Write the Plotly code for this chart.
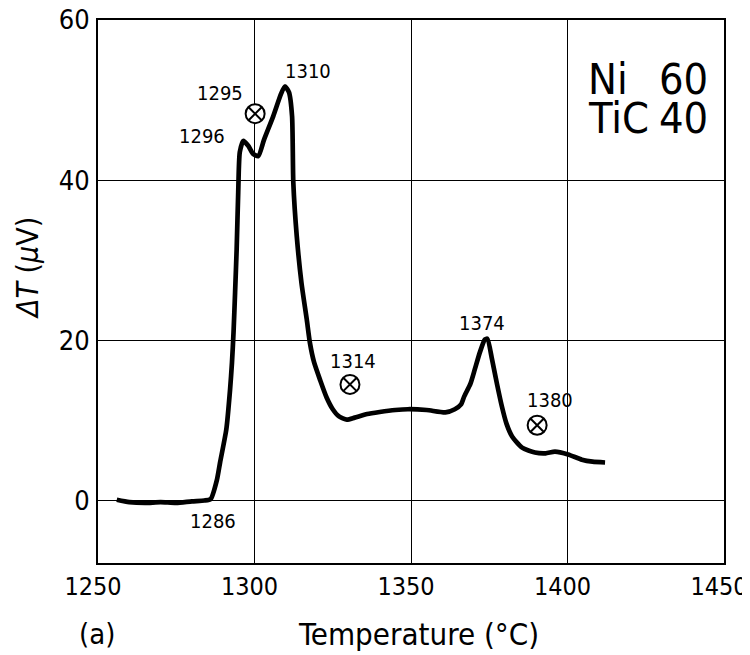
import plotly.graph_objects as go

# DTA curve (Temperature °C, ΔT µV)
temp = [1256, 1260, 1265, 1270, 1275, 1280, 1284, 1286, 1288, 1289, 1291, 1292.2, 1292.8, 1293.3,
        1293.8, 1294.3, 1294.8, 1295.3, 1296.4, 1298, 1299.5, 1301.2, 1303, 1306, 1308.5, 1309.7,
        1311, 1312, 1312.4, 1313.5, 1315, 1316.7, 1317.7, 1319, 1321, 1323, 1325, 1327, 1329.5,
        1332, 1336, 1340, 1345, 1349, 1355, 1361, 1364, 1366, 1367, 1369, 1370.4, 1372, 1373.6,
        1374.4, 1375.9, 1377.5, 1379, 1380.5, 1382.3, 1385.5, 1389.6, 1393, 1396, 1400.2, 1404.6,
        1408, 1412]
dT = [0.1, -0.2, -0.3, -0.2, -0.3, -0.1, 0.0, 0.2, 2.6, 4.75, 8.9, 13.9, 17.2, 21.0,
      26.0, 31.4, 38.5, 43.5, 44.9, 44.3, 43.3, 43.0, 45.0, 48.0, 50.8, 51.7,
      51.0, 48.0, 39.7, 33.0, 27.2, 22.6, 19.7, 17.3, 15.0, 12.9, 11.4, 10.5, 10.1,
      10.35, 10.8, 11.05, 11.3, 11.4, 11.3, 11.0, 11.4, 12.0, 13.0, 14.6, 16.4, 18.5, 20.1,
      20.2, 17.6, 14.5, 11.8, 9.6, 8.0, 6.6, 6.0, 5.9, 6.1, 5.75, 5.1,
      4.85, 4.75]

# labelled points
lab_text = ["1296", "1310", "1286", "1374"]
lab_x = [1283.2, 1317.0, 1286.7, 1372.7]
lab_y = [45.5, 53.6, -2.6, 22.2]

mark_x = [1300.2, 1330.5, 1390.3]
mark_y = [48.3, 14.5, 9.4]
mark_text = ["1295", "1314", "1380"]
mark_lx = [1289.0, 1331.5, 1394.4]
mark_ly = [50.9, 17.4, 12.5]

x_ticks = [1250, 1300, 1350, 1400, 1450]
y_ticks = [0, 20, 40, 60]

FONT = "DejaVu Sans Condensed, Liberation Sans Narrow, Arial Narrow, sans-serif"

# page body has an 8px margin: figure sized to fit the 750x655 window
OFF = 8
W, H = 742, 647
L, T = 98 - OFF, 20 - OFF
R = W - (724 - OFF)
B = H - (563 - OFF)
PW, PH = W - L - R, H - T - B


def px(xpix):
    return (xpix - OFF - L) / PW


def py(ypix):
    return (H - B - (ypix - OFF)) / PH


fig = go.Figure()
fig.add_trace(go.Scatter(x=temp, y=dT, mode="lines",
                         line=dict(color="black", width=4.7, shape="spline", smoothing=0.6),
                         showlegend=False, hoverinfo="skip"))
fig.add_trace(go.Scatter(x=mark_x, y=mark_y, mode="markers",
                         marker=dict(symbol="circle-x", size=19, color="white",
                                     line=dict(width=2, color="black")),
                         showlegend=False, hoverinfo="skip"))

for t, x, y in zip(lab_text, lab_x, lab_y):
    fig.add_annotation(x=x, y=y, text=t, showarrow=False, xanchor="center", yanchor="middle",
                       font=dict(size=20, color="black", family=FONT))
for t, x, y in zip(mark_text, mark_lx, mark_ly):
    fig.add_annotation(x=x, y=y, text=t, showarrow=False, xanchor="center", yanchor="middle",
                       font=dict(size=20, color="black", family=FONT))

# composition box text
for t, xp, yp, anc in [("Ni", 586, 79, "left"), ("60", 710, 79, "right"),
                       ("TiC", 586, 118, "left"), ("40", 710, 118, "right")]:
    fig.add_annotation(xref="paper", yref="paper", x=px(xp), y=py(yp), text=t, showarrow=False,
                       xanchor=anc, yanchor="middle", height=36,
                       font=dict(size=43, color="black", family=FONT))

fig.add_annotation(xref="paper", yref="paper", x=px(97), y=py(634), text="(a)", showarrow=False,
                   xanchor="center", yanchor="middle", font=dict(size=29, color="black", family=FONT))
fig.add_annotation(xref="paper", yref="paper", x=px(418), y=py(634), text="Temperature (°C)", showarrow=False,
                   xanchor="center", yanchor="middle", font=dict(size=31, color="black", family=FONT))
fig.add_annotation(xref="paper", yref="paper", x=px(27), y=py(268), text="<i>ΔT</i> (<i>μ</i>V)",
                   showarrow=False, textangle=-90, xanchor="center", yanchor="middle",
                   font=dict(size=30, color="black", family=FONT))

fig.update_xaxes(range=[1250, 1450], tickvals=x_ticks, ticks="", showgrid=True, gridcolor="black", gridwidth=1,
                 showline=True, linecolor="black", linewidth=2, mirror=True, zeroline=False,
                 automargin=False, ticklabeloverflow="allow", ticklabelstandoff=0, ticklabelshift=-5,
                 tickfont=dict(size=25, color="black", family=FONT))
fig.update_yaxes(range=[-7.8, 60], tickvals=y_ticks, ticks="", showgrid=True, gridcolor="black", gridwidth=1,
                 showline=True, linecolor="black", linewidth=2, mirror=True, zeroline=False,
                 automargin=False, ticklabeloverflow="allow", ticklabelstandoff=1,
                 tickfont=dict(size=27, color="black", family=FONT))

fig.update_layout(width=W, height=H, margin=dict(l=L, r=R, t=T, b=B),
                  plot_bgcolor="white", paper_bgcolor="white")

fig.write_html("out.html")
